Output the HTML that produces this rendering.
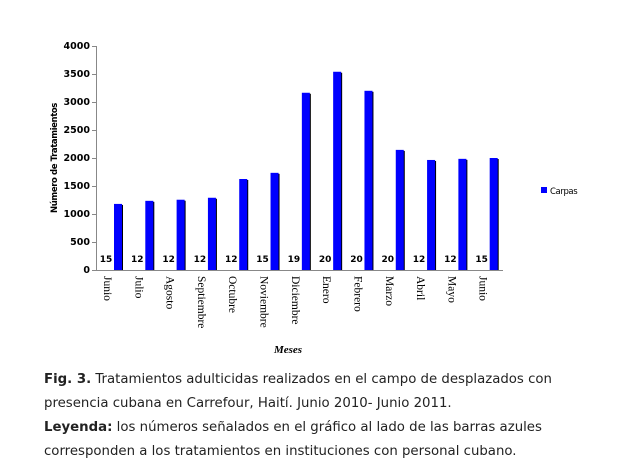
<!DOCTYPE html>
<html><head><meta charset="utf-8"><style>
html,body{margin:0;padding:0;background:#fff;width:625px;height:466px;overflow:hidden}
.cap{position:absolute;left:44px;font-family:"DejaVu Sans","Liberation Sans",sans-serif;font-size:13.3px;color:#222;line-height:24px;white-space:nowrap}
</style></head><body>
<svg width="625" height="466" style="position:absolute;left:0;top:0" xmlns="http://www.w3.org/2000/svg">
<g font-family="DejaVu Sans,Liberation Sans,sans-serif" font-size="9.5" font-weight="bold" text-anchor="end" fill="#000">
<text x="90" y="49">4000</text><text x="90" y="77">3500</text><text x="90" y="105">3000</text>
<text x="90" y="133">2500</text><text x="90" y="161">2000</text><text x="90" y="189">1500</text>
<text x="90" y="217">1000</text><text x="90" y="245">500</text><text x="90" y="273">0</text>
</g>
<g stroke="#888" stroke-width="1">
<line x1="96.5" y1="46" x2="96.5" y2="270"/><line x1="96" y1="270.5" x2="503" y2="270.5"/>
<line x1="92" y1="46.5" x2="96" y2="46.5"/><line x1="92" y1="74.5" x2="96" y2="74.5"/><line x1="92" y1="102.5" x2="96" y2="102.5"/>
<line x1="92" y1="130.5" x2="96" y2="130.5"/><line x1="92" y1="158.5" x2="96" y2="158.5"/><line x1="92" y1="186.5" x2="96" y2="186.5"/>
<line x1="92" y1="214.5" x2="96" y2="214.5"/><line x1="92" y1="242.5" x2="96" y2="242.5"/><line x1="92" y1="270.5" x2="96" y2="270.5"/>
</g>
<text transform="translate(57,158) rotate(-90)" font-family="DejaVu Sans,Liberation Sans,sans-serif" font-size="8.5" font-weight="bold" text-anchor="middle" letter-spacing="-0.4">Número de Tratamientos</text>
<g id="bars"></g>
<text x="288" y="353" font-family="Liberation Serif,serif" font-size="11" font-weight="bold" font-style="italic" text-anchor="middle">Meses</text>
<rect x="541" y="187" width="6" height="6" fill="#0000ff"/>
<text x="550" y="194" font-family="DejaVu Sans,Liberation Sans,sans-serif" font-size="8.5" letter-spacing="-0.4">Carpas</text>
</svg>
<div class="cap" style="top:368px"><b>Fig. 3.</b> Tratamientos adulticidas realizados en el campo de desplazados con</div>
<div class="cap" style="top:392px">presencia cubana en Carrefour, Haití. Junio 2010- Junio 2011.</div>
<div class="cap" style="top:416px"><b>Leyenda:</b> los números señalados en el gráfico al lado de las barras azules</div>
<div class="cap" style="top:440px">corresponden a los tratamientos en instituciones con personal cubano.</div>
<script>
var v=[1180,1235,1255,1290,1625,1735,3165,3540,3200,2145,1965,1985,2000];
var n=[15,12,12,12,12,15,19,20,20,20,12,12,15];
var m=["Junio","Julio","Agosto","Septiembre","Octubre","Noviembre","Diciembre","Enero","Febrero","Marzo","Abril","Mayo","Junio"];
var s="",w=(503-96)/13;
for(var i=0;i<13;i++){var x0=96+i*w,bx=x0+18,h=v[i]*0.056,y=270-h;
s+='<rect x="'+(bx+1)+'" y="'+(y+1)+'" width="8" height="'+(h-1)+'" fill="#000"/>';
s+='<rect x="'+bx+'" y="'+y+'" width="8" height="'+h+'" fill="#0000ff"/>';
s+='<text x="'+(x0+10)+'" y="262" font-family="DejaVu Sans,sans-serif" font-size="9" font-weight="bold" text-anchor="middle">'+n[i]+'</text>';
s+='<text transform="translate('+(x0+8)+',276) rotate(90)" font-family="Liberation Serif,serif" font-size="11.5">'+m[i]+'</text>';}
document.getElementById("bars").innerHTML=s;
</script>
</body></html>
